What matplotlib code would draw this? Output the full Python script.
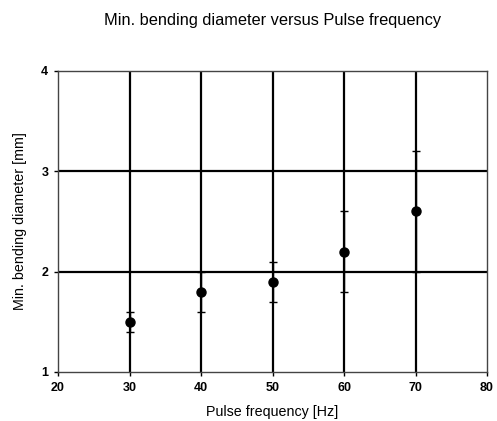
import matplotlib.pyplot as plt

plt.rcParams['font.family'] = ['Liberation Sans', 'DejaVu Sans']

# data
freq = [30, 40, 50, 60, 70]
diameter = [1.5, 1.8, 1.9, 2.2, 2.6]
err = [0.1, 0.2, 0.2, 0.4, 0.6]
x_ticks = [20, 30, 40, 50, 60, 70, 80]
y_ticks = [1, 2, 3, 4]

fig = plt.figure(figsize=(4.97, 4.21), dpi=100)
ax = fig.add_axes([0.1167, 0.1164, 0.8633, 0.715])

ax.set_xlim(20, 80)
ax.set_ylim(1, 4)
ax.set_xticks(x_ticks)
ax.set_yticks(y_ticks)

# heavy grid lines
for x in x_ticks[1:-1]:
    ax.axvline(x, color='black', lw=1.6, zorder=1)
for y in y_ticks[1:-1]:
    ax.axhline(y, color='black', lw=1.6, zorder=1)

ax.errorbar(freq, diameter, yerr=err, fmt='o', color='black', ms=6.5,
            elinewidth=1.0, capsize=3, capthick=1.0, zorder=3)

for s in ax.spines.values():
    s.set_linewidth(1.0)
    s.set_color('#444444')

ax.tick_params(direction='out', length=3, width=1, labelsize=9, pad=4)
for lab in ax.get_xticklabels() + ax.get_yticklabels():
    lab.set_fontweight('bold')

ax.set_xlabel('Pulse frequency [Hz]', fontsize=10.3, labelpad=8)
ax.set_ylabel('Min. bending diameter [mm]', fontsize=10.3, labelpad=10)
fig.suptitle('Min. bending diameter versus Pulse frequency', fontsize=11.8,
             x=0.548, y=0.97)

fig.savefig('out.png', dpi=100)
